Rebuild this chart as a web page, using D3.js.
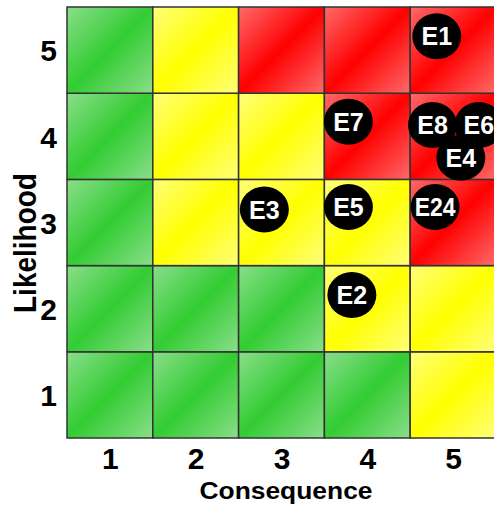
<!DOCTYPE html>
<html><head><meta charset="utf-8">
<script src="https://cdn.jsdelivr.net/npm/d3@7"></script>
<style>body{margin:0;background:#fff}svg{display:block}</style>
</head><body>
<script>
// Data
const consequence = [1, 2, 3, 4, 5];
const likelihood = [1, 2, 3, 4, 5];
// risk level per likelihood row (row 1 first), per consequence column
const riskRow1 = ["G", "G", "G", "G", "Y"];
const riskRow2 = ["G", "G", "G", "Y", "Y"];
const riskRow3 = ["G", "Y", "Y", "Y", "R"];
const riskRow4 = ["G", "Y", "Y", "R", "R"];
const riskRow5 = ["G", "Y", "R", "R", "R"];
const riskNames = ["E1", "E7", "E8", "E6", "E4", "E3", "E5", "E24", "E2"];
const riskConsequence = [4.81, 3.78, 4.76, 5.30, 5.09, 2.80, 3.78, 4.79, 3.82];
const riskLikelihood = [5.16, 4.17, 4.13, 4.13, 3.75, 3.15, 3.18, 3.18, 2.16];

const W = 494, H = 506;
const svg = d3.select("body").append("svg").attr("width", W).attr("height", H);
const x = d3.scaleLinear().domain([0.5, 5.5]).range([67, 496]);
const y = d3.scaleLinear().domain([0.5, 5.5]).range([438, 7]);

const palette = {
  G: ["#8ade8a", "#33cc33"],
  Y: ["#ffff7a", "#ffff00"],
  R: ["#ff6a6a", "#ff0000"]
};
const defs = svg.append("defs");
Object.entries(palette).forEach(([k, c]) => {
  const g = defs.append("linearGradient").attr("id", "grad" + k)
    .attr("x1", 0).attr("y1", 0).attr("x2", 1).attr("y2", 1);
  g.append("stop").attr("offset", 0).attr("stop-color", c[0]);
  g.append("stop").attr("offset", 0.5).attr("stop-color", c[1]);
  g.append("stop").attr("offset", 1).attr("stop-color", c[0]);
});

const rows = [riskRow1, riskRow2, riskRow3, riskRow4, riskRow5];
const cells = [];
likelihood.forEach((l, i) => consequence.forEach((c, j) => cells.push({c, l, r: rows[i][j]})));

svg.append("g").selectAll("rect").data(cells).join("rect")
  .attr("x", d => x(d.c - 0.5))
  .attr("y", d => y(d.l + 0.5))
  .attr("width", d => x(d.c + 0.5) - x(d.c - 0.5))
  .attr("height", d => y(d.l - 0.5) - y(d.l + 0.5))
  .attr("fill", d => `url(#grad${d.r})`)
  .attr("stroke", "#333")
  .attr("stroke-width", 1.5);

// axes
const font = "'Liberation Sans', Arial, sans-serif";
const xAxis = svg.append("g").attr("transform", `translate(0,${y(0.5)})`)
  .call(d3.axisBottom(x).tickValues(consequence).tickSize(0).tickPadding(11).tickFormat(d3.format("d")));
xAxis.select(".domain").remove();
xAxis.selectAll("text").attr("font-family", font).attr("font-weight", "bold")
  .attr("font-size", 30).attr("fill", "#000").attr("dy", "0.68em");

const yAxis = svg.append("g").attr("transform", `translate(${x(0.5)},0)`)
  .call(d3.axisLeft(y).tickValues(likelihood).tickSize(0).tickPadding(10).tickFormat(d3.format("d")));
yAxis.select(".domain").remove();
yAxis.selectAll("text").attr("font-family", font).attr("font-weight", "bold")
  .attr("font-size", 30).attr("fill", "#000").attr("dy", "0.36em");

svg.append("text").attr("transform", "translate(286,499) scale(1.1,1)")
  .attr("text-anchor", "middle").attr("font-family", font).attr("font-weight", "bold")
  .attr("font-size", 24).text("Consequence");

svg.append("text").attr("transform", "translate(36,243) rotate(-90) scale(1,1.1)")
  .attr("text-anchor", "middle").attr("font-family", font).attr("font-weight", "bold")
  .attr("font-size", 28).text("Likelihood");

// risk markers
const risks = riskNames.map((n, i) => ({n, c: riskConsequence[i], l: riskLikelihood[i]}));
svg.append("g").selectAll("ellipse").data(risks).join("ellipse")
  .attr("cx", d => x(d.c)).attr("cy", d => y(d.l))
  .attr("rx", 24.5).attr("ry", 23).attr("fill", "#000");
svg.append("g").selectAll("text").data(risks).join("text")
  .attr("transform", d => `translate(${x(d.c)},${y(d.l)}) scale(${d.n.length > 2 ? 0.92 : 1.0},1)`)
  .attr("text-anchor", "middle").attr("dy", "0.36em")
  .attr("font-family", font).attr("font-weight", "bold").attr("font-size", 25)
  .attr("fill", "#fff").text(d => d.n);
</script>
</body></html>
